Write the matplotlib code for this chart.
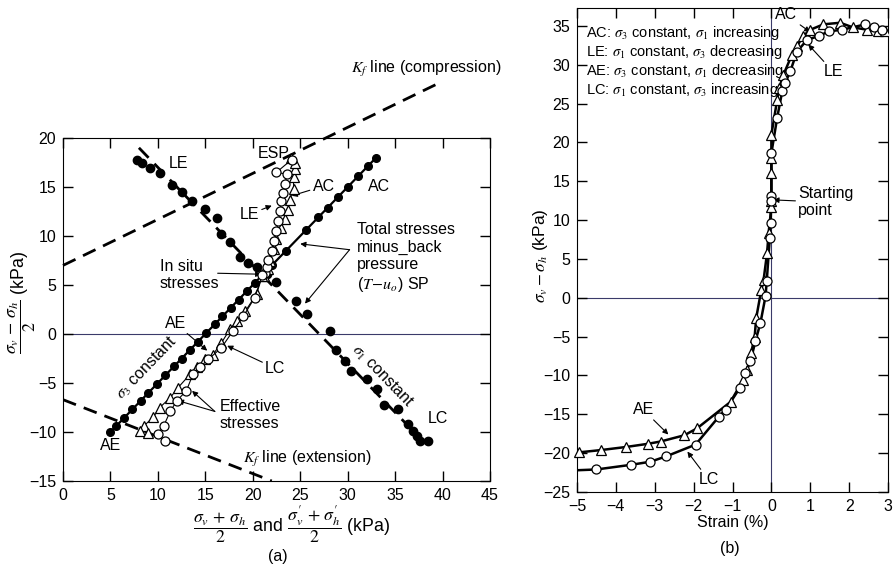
import matplotlib
matplotlib.use("Agg")
import matplotlib.pyplot as plt

plt.rcParams['font.family'] = ['Liberation Sans', 'DejaVu Sans']
plt.rcParams['mathtext.fontset'] = 'stix'
plt.rcParams['font.size'] = 11.5

# ---- (a) stress paths: p = (sv+sh)/2, q = (sv-sh)/2, kPa ----
# total stress path, sigma3 constant (AE below in situ, AC above)
tot_ac_p = [5.0, 5.6, 6.4, 7.3, 8.2, 9.0, 9.9, 10.8, 11.7, 12.5, 13.4, 14.2, 15.1, 16.0,
            16.8, 17.7, 18.5, 19.4, 20.2, 21.0, 22.0, 23.5, 25.6, 26.9, 27.9, 29.0, 30.0,
            31.1, 32.1, 33.0]
tot_ac_q = [-10.0, -9.4, -8.6, -7.7, -6.8, -6.0, -5.1, -4.2, -3.3, -2.5, -1.6, -0.8, 0.1, 1.0,
            1.8, 2.7, 3.5, 4.4, 5.2, 6.0, 7.0, 8.5, 10.6, 11.9, 12.9, 14.0, 15.0,
            16.1, 17.1, 18.0]
# total stress path, sigma1 constant (LE above in situ, LC below)
tot_s1_p = [7.8, 8.3, 9.2, 10.2, 11.5, 12.5, 13.6, 15.0, 16.2, 16.7, 17.6, 18.7, 19.5, 20.4,
            21.5, 22.5, 24.6, 25.7, 28.1, 28.8, 29.7, 30.4, 32.0, 33.1, 33.8, 35.3, 36.4,
            36.9, 37.3, 37.6, 38.5]
tot_s1_q = [17.8, 17.4, 16.9, 16.4, 15.2, 14.5, 13.6, 12.8, 11.8, 10.2, 9.4, 7.9, 7.2, 6.8,
            6.1, 5.3, 3.4, 2.0, 0.3, -1.6, -2.8, -3.8, -4.6, -5.6, -7.2, -7.7, -9.2,
            -9.9, -10.4, -10.9, -10.9]
# sigma1 constant reference line (p + q = 27)
s1_line_p = [8.0, 37.8]
s1_line_q = [19.0, -10.8]

# effective stress paths
ac_eff_p = [21.2, 21.6, 21.8, 22.2, 22.5, 23.0, 23.4, 23.7, 23.9, 24.3, 24.3, 24.4, 24.4, 24.0]
ac_eff_q = [5.9, 6.6, 7.4, 8.7, 9.7, 10.8, 11.7, 12.7, 13.7, 14.8, 16.0, 16.8, 17.5, 18.0]
le_eff_p = [21.3, 21.5, 21.6, 22.0, 22.2, 22.5, 22.7, 22.9, 23.0, 23.2, 23.4, 23.6, 22.5, 24.1]
le_eff_q = [6.2, 6.8, 7.6, 8.5, 9.5, 10.5, 11.5, 12.6, 13.6, 14.4, 15.3, 16.3, 16.5, 17.8]
ae_eff_p = [21.0, 20.4, 19.2, 18.3, 17.6, 16.7, 15.8, 15.0, 14.1, 13.4, 12.1, 11.3, 10.2,
            9.5, 8.5, 8.1, 9.0]
ae_eff_q = [5.9, 4.1, 2.3, 1.3, 0.5, -0.9, -2.1, -2.6, -3.4, -4.1, -5.5, -6.5, -7.5,
            -8.5, -9.4, -9.9, -10.1]
lc_eff_p = [21.0, 20.2, 19.0, 17.9, 16.7, 15.3, 14.4, 13.7, 13.0, 12.0, 11.3, 10.6, 10.0, 10.7]
lc_eff_q = [6.0, 3.7, 1.8, 0.3, -1.4, -2.6, -3.4, -4.1, -5.8, -6.8, -7.9, -9.4, -10.2, -10.9]

# failure lines
kf_comp_p = [0.0, 39.4]
kf_comp_q = [7.0, 25.5]
kf_ext_p = [0.0, 22.0]
kf_ext_q = [-6.7, -15.0]

# ---- (b) deviator stress vs strain ----
ac_strain = [0.0, 0.0, 0.0, 0.0, 0.15, 0.2, 0.31, 0.53, 0.66, 0.82, 1.0, 1.34, 1.77, 2.1,
             2.47, 2.75, 2.93]
ac_q = [12.4, 16.1, 18.0, 21.0, 25.5, 27.0, 28.7, 31.3, 32.4, 33.7, 34.5, 35.2, 35.4, 34.8,
        34.5, 34.3, 34.3]
le_strain = [0.0, 0.0, 0.15, 0.28, 0.36, 0.49, 0.66, 0.92, 1.22, 1.48, 1.82, 2.42, 2.63, 2.84]
le_q = [13.1, 18.6, 23.2, 26.6, 27.7, 29.2, 31.7, 33.2, 33.7, 34.3, 34.5, 35.2, 34.8, 34.5]
ae_strain = [0.0, -0.07, -0.11, -0.20, -0.26, -0.39, -0.43, -0.52, -0.62, -0.73, -1.05,
             -1.91, -2.24, -2.85, -3.18, -3.73, -4.38, -4.95]
ae_q = [11.7, 8.4, 5.8, 2.3, 1.0, -2.6, -5.0, -7.1, -9.3, -10.6, -13.4,
        -16.8, -17.7, -18.5, -18.8, -19.2, -19.6, -19.9]
lc_strain = [0.0, -0.02, -0.04, -0.12, -0.15, -0.28, -0.41, -0.54, -0.67, -0.81, -1.18,
             -1.35, -1.95, -2.7, -3.11, -3.61, -4.5]
lc_q = [12.5, 9.6, 7.7, 2.1, 0.2, -3.2, -5.6, -8.2, -9.7, -11.6, -14.4,
        -15.3, -18.9, -20.4, -21.1, -21.5, -22.1]
# curve ends at the left border
lc_end = (-5.0, -22.2)
ae_end = (-5.0, -19.95)

legend_lines = [r'AC: $\sigma_3$ constant, $\sigma_1$ increasing',
                r'LE: $\sigma_1$ constant, $\sigma_3$ decreasing',
                r'AE: $\sigma_3$ constant, $\sigma_1$ decreasing',
                r'LC: $\sigma_1$ constant, $\sigma_3$ increasing']

W, H = 893, 567
fig = plt.figure(figsize=(W / 100, H / 100), dpi=100)
ax1 = fig.add_axes([63 / W, 1 - 481 / H, (490 - 63) / W, (481 - 138) / H])
ax2 = fig.add_axes([577 / W, 1 - 492 / H, (888 - 577) / W, (492 - 8) / H])

arrow = dict(arrowstyle='-|>', color='k', lw=0.8, mutation_scale=8, shrinkA=0, shrinkB=0)
open_mk = dict(mfc='white', mec='k', mew=0.9, ms=6.5)

# ---------------- panel (a) ----------------
ax1.axhline(0, color='#3a3a6a', lw=0.8, zorder=1)
ax1.plot(kf_comp_p, kf_comp_q, 'k--', lw=2.0, dashes=(5, 3), clip_on=False)
ax1.plot(kf_ext_p, kf_ext_q, 'k--', lw=2.0, dashes=(5, 3))
ax1.plot(s1_line_p, s1_line_q, 'k--', lw=2.0, dashes=(5, 3))
ax1.plot(tot_ac_p, tot_ac_q, 'k-', lw=1.6, marker='o', ms=5.5, zorder=3)
ax1.plot(tot_s1_p, tot_s1_q, 'o', color='k', ms=6, zorder=3)
ax1.plot(ac_eff_p, ac_eff_q, 'k-', lw=0.8, marker='^', zorder=4, **open_mk)
ax1.plot(le_eff_p, le_eff_q, 'k-', lw=0.8, marker='o', zorder=4, **open_mk)
ax1.plot(ae_eff_p, ae_eff_q, 'k-', lw=0.8, marker='^', zorder=4, **open_mk)
ax1.plot(lc_eff_p, lc_eff_q, 'k-', lw=0.8, marker='o', zorder=4, **open_mk)

ax1.set_xlim(0, 45)
ax1.set_ylim(-15, 20)
ax1.set_xticks(range(0, 46, 5))
ax1.set_yticks(range(-15, 21, 5))
ax1.set_yticklabels(['\u221215', '\u221210', '\u22125', '0', '5', '10', '15', '20'])
ax1.tick_params(direction='in', length=7, width=1, top=True, right=True, pad=5)

ax1.text(30.3, 27.0, r'$K_f$ line (compression)', va='center', clip_on=False)
ax1.text(19.0, -12.8, r'$K_f$ line (extension)', va='center')
ax1.text(11.1, 17.4, 'LE', va='center')
ax1.text(20.5, 18.4, 'ESP', va='center')
ax1.text(32.1, 15.1, 'AC', va='center')
ax1.annotate('AC', xy=(24.1, 14.1), xytext=(26.3, 15.1), va='center', arrowprops=arrow)
ax1.annotate('LE', xy=(22.0, 13.1), xytext=(18.6, 12.2), va='center', arrowprops=arrow)
ax1.text(31.0, 7.75, 'Total stresses\nminus_back\npressure\n' + r'($T\!-\!u_o$) SP',
         va='center', linespacing=1.2)
ax1.annotate('', xy=(25.0, 9.2), xytext=(30.2, 8.6), arrowprops=arrow)
ax1.annotate('', xy=(25.5, 3.1), xytext=(30.2, 8.6), arrowprops=arrow)
ax1.text(10.2, 6.0, 'In situ\nstresses', va='center', linespacing=1.15)
ax1.annotate('', xy=(20.9, 6.1), xytext=(16.3, 6.2), arrowprops=arrow)
ax1.annotate('AE', xy=(15.2, -1.7), xytext=(10.7, 1.1), va='center', arrowprops=arrow)
ax1.annotate('LC', xy=(17.3, -1.2), xytext=(21.3, -3.5), va='center', arrowprops=arrow)
ax1.text(8.85, -3.5, r'$\sigma_3$ constant', rotation=46, ha='center', va='center',
         rotation_mode='anchor')
ax1.text(33.7, -4.3, r'$\sigma_1$ constant', rotation=-46, ha='center', va='center',
         rotation_mode='anchor')
ax1.text(16.5, -8.3, 'Effective\nstresses', va='center', linespacing=1.15)
ax1.annotate('', xy=(13.6, -5.8), xytext=(16.0, -7.9), arrowprops=arrow)
ax1.annotate('', xy=(12.1, -6.8), xytext=(16.0, -7.9), arrowprops=arrow)
ax1.text(3.9, -11.4, 'AE', va='center')
ax1.text(38.4, -8.6, 'LC', va='center')

fig.text(292 / W, 1 - 525 / H,
         r'$\dfrac{\sigma_v\,+\,\sigma_h}{2}$ and $\dfrac{\sigma^{\prime}_v\,+\,\sigma^{\prime}_h}{2}$ (kPa)',
         ha='center', va='center', fontsize=12.8)
fig.text(278 / W, 1 - 556 / H, '(a)', ha='center', va='center')
fig.text(22 / W, 1 - 302 / H, r'$\dfrac{\sigma_v\,-\,\sigma_h}{2}$ (kPa)', rotation=90,
         ha='center', va='center', fontsize=12.8)

# ---------------- panel (b) ----------------
ax2.axhline(0, color='#3a3a6a', lw=0.8, zorder=1)
ax2.axvline(0, color='#3a3a6a', lw=0.8, zorder=1)
ax2.plot(ac_strain, ac_q, 'k-', lw=1.8, zorder=2)
ax2.plot(le_strain, le_q, 'k-', lw=1.8, zorder=2)
ax2.plot(ae_strain + [ae_end[0]], ae_q + [ae_end[1]], 'k-', lw=1.8, zorder=2)
ax2.plot(lc_strain + [lc_end[0]], lc_q + [lc_end[1]], 'k-', lw=1.8, zorder=2)
ax2.plot(ac_strain, ac_q, '^', zorder=4, **open_mk)
ax2.plot(le_strain, le_q, 'o', zorder=4, **open_mk)
ax2.plot(ae_strain, ae_q, '^', zorder=4, clip_on=False, **open_mk)
ax2.plot(lc_strain, lc_q, 'o', zorder=4, **open_mk)

ax2.set_xlim(-5, 3)
ax2.set_ylim(-25, 37.3)
ax2.set_xticks(range(-5, 4))
ax2.set_xticklabels(['\u22125', '\u22124', '\u22123', '\u22122', '\u22121', '0', '1', '2', '3'])
ax2.set_yticks(range(-25, 36, 5))
ax2.set_yticklabels(['\u221225', '\u221220', '\u221215', '\u221210', '\u22125', '0',
                     '5', '10', '15', '20', '25', '30', '35'])
ax2.tick_params(direction='in', length=7, width=1, top=True, right=True, pad=5)

for i, line in enumerate(legend_lines):
    ax2.text(-4.78, 34.1 - 2.45 * i, line, va='center', fontsize=10.5)
ax2.annotate('AC', xy=(1.0, 34.2), xytext=(0.1, 36.4), va='center', arrowprops=arrow,
             annotation_clip=False)
ax2.annotate('LE', xy=(0.95, 32.6), xytext=(1.34, 29.1), va='center', arrowprops=arrow)
ax2.annotate('Starting\npoint', xy=(0.05, 12.6), xytext=(0.69, 12.3), va='center',
             linespacing=1.15, arrowprops=arrow)
ax2.annotate('AE', xy=(-2.65, -17.6), xytext=(-3.57, -14.4), va='center', arrowprops=arrow)
ax2.annotate('LC', xy=(-2.16, -19.8), xytext=(-1.88, -23.4), va='center', arrowprops=arrow)

ax2.set_xlabel('Strain (%)', labelpad=1)
fig.text(730 / W, 1 - 548 / H, '(b)', ha='center', va='center')
fig.text(540 / W, 1 - 256 / H, r'$\sigma_v - \sigma_h$ (kPa)', rotation=90,
         ha='center', va='center', fontsize=12.5)

fig.savefig('out.png', dpi=100)
